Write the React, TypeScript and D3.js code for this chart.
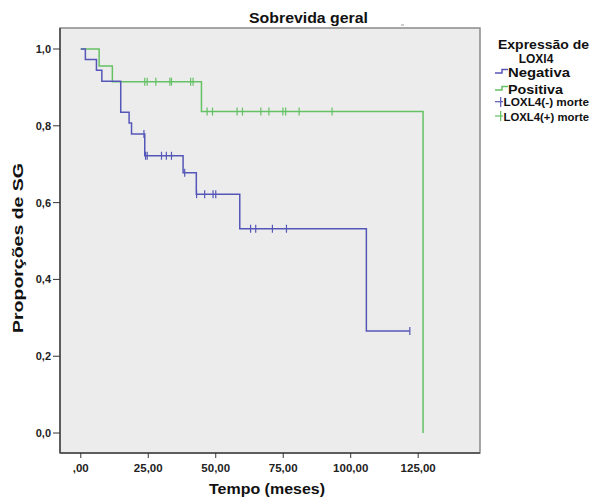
import React from "react";
import * as d3 from "d3";

const negTimes = [0, 1.7, 5.8, 7.8, 14.8, 17.9, 18.8, 23.7, 37.9, 42.8, 58.9, 105.8];
const negSurv = [1, 0.973, 0.945, 0.916, 0.835, 0.807, 0.779, 0.722, 0.678, 0.622, 0.532, 0.266];
const negEnd = 121.9;
const negCensor = [23.4, 24.0, 24.6, 29.9, 31.7, 33.6, 38.5, 42.9, 45.9, 49.0, 50.0, 62.9, 64.8, 71.0, 76.2, 121.9];

const posTimes = [0, 6.8, 11.7, 44.7, 126.8];
const posSurv = [1, 0.956, 0.915, 0.837, 0];
const posCensor = [23.7, 24.6, 27.8, 33.0, 33.6, 40.7, 41.6, 46.8, 48.8, 57.9, 59.9, 66.7, 69.7, 74.9, 75.9, 80.9, 93.1];

const xTicks = [0, 25, 50, 75, 100, 125];
const xTickLabels = [",00", "25,00", "50,00", "75,00", "100,00", "125,00"];
const yTicks = [0, 0.2, 0.4, 0.6, 0.8, 1.0];
const yTickLabels = ["0,0", "0,2", "0,4", "0,6", "0,8", "1,0"];

const legendTitle = ["Expressão de", "LOXl4"];
const legendItems = ["Negativa", "Positiva", "LOXL4(-) morte", "LOXL4(+) morte"];

const BLUE = "#5557b8";
const GREEN = "#64c164";
const FONT = "'Liberation Sans', Arial, sans-serif";

export default function App() {
  const W = 592, H = 499;
  const L = 60, R = 480, T = 28, B = 453;
  const x = d3.scaleLinear().domain([-7.7, 147.9]).range([L, R]);
  const y = d3.scaleLinear().domain([-0.052, 1.0547]).range([B, T]);

  const line = d3.line<[number, number]>()
    .x(d => x(d[0]))
    .y(d => y(d[1]))
    .curve(d3.curveStepAfter);

  const negPts: [number, number][] = negTimes.map((t, i) => [t, negSurv[i]]);
  negPts.push([negEnd, negSurv[negSurv.length - 1]]);
  const posPts: [number, number][] = posTimes.map((t, i) => [t, posSurv[i]]);

  const survAt = (times: number[], surv: number[], t: number) => {
    let v = surv[0];
    for (let i = 0; i < times.length; i++) if (times[i] <= t) v = surv[i];
    return v;
  };

  const tick = 4;

  return (
    <svg width={W} height={H} style={{ position: "absolute", left: 0, top: 0, background: "#fff" }} fontFamily={FONT}>
      <rect x={0} y={0} width={W} height={H} fill="#fff" />
      <text x={308.5} y={22.5} textAnchor="middle" fontWeight="bold" fontSize={15} textLength={119} lengthAdjust="spacingAndGlyphs" fill="#111">Sobrevida geral</text>
      <line x1={401} x2={404} y1={25} y2={25} stroke="#999" strokeWidth={1} />
      <rect x={L} y={T} width={R - L} height={B - T} fill="#ececec" stroke="#8a8a8a" strokeWidth={1.5} />
      <line x1={L} x2={L} y1={T} y2={B} stroke="#444" strokeWidth={1.5} />
      <line x1={L} x2={R} y1={B} y2={B} stroke="#444" strokeWidth={1.5} />

      {yTicks.map((v, i) => (
        <g key={"y" + i}>
          <line x1={L - 7} x2={L} y1={y(v)} y2={y(v)} stroke="#333" strokeWidth={1} />
          <text x={L - 9} y={y(v) + 4} textAnchor="end" fontWeight="bold" fontSize={11} fill="#222">{yTickLabels[i]}</text>
        </g>
      ))}
      {xTicks.map((v, i) => (
        <g key={"x" + i}>
          <line x1={x(v)} x2={x(v)} y1={B} y2={B + 5} stroke="#333" strokeWidth={1} />
          <text x={x(v)} y={471.5} textAnchor="middle" fontWeight="bold" fontSize={11.5} fill="#222">{xTickLabels[i]}</text>
        </g>
      ))}
      <text x={267} y={494} textAnchor="middle" fontWeight="bold" fontSize={15.5} textLength={116} lengthAdjust="spacingAndGlyphs" fill="#111">Tempo (meses)</text>
      <text transform={`translate(23,248) rotate(-90)`} textAnchor="middle" fontWeight="bold" fontSize={15} textLength={170} lengthAdjust="spacingAndGlyphs" fill="#111">Proporções de SG</text>

      <path d={line(posPts) || ""} fill="none" stroke={GREEN} strokeWidth={1.5} />
      <path d={line(negPts) || ""} fill="none" stroke={BLUE} strokeWidth={1.5} />
      {posCensor.map((t, i) => (
        <line key={"pc" + i} x1={x(t)} x2={x(t)} y1={y(survAt(posTimes, posSurv, t)) - tick} y2={y(survAt(posTimes, posSurv, t)) + tick} stroke={GREEN} strokeWidth={1.2} />
      ))}
      {negCensor.map((t, i) => (
        <line key={"nc" + i} x1={x(t)} x2={x(t)} y1={y(survAt(negTimes, negSurv, t)) - tick} y2={y(survAt(negTimes, negSurv, t)) + tick} stroke={BLUE} strokeWidth={1.2} />
      ))}

      <text x={543.5} y={48.5} textAnchor="middle" fontWeight="bold" fontSize={12.5} textLength={91} lengthAdjust="spacingAndGlyphs" fill="#111">{legendTitle[0]}</text>
      <text x={536} y={63} textAnchor="middle" fontWeight="bold" fontSize={12} fill="#111">{legendTitle[1]}</text>

      <path d="M495,73 H502 V69.5 H508" fill="none" stroke={BLUE} strokeWidth={1.5} />
      <text x={508} y={77} fontWeight="bold" fontSize={12.5} textLength={62} lengthAdjust="spacingAndGlyphs" fill="#111">{legendItems[0]}</text>
      <path d="M495,90 H502 V86.5 H508" fill="none" stroke={GREEN} strokeWidth={1.5} />
      <text x={508} y={93.5} fontWeight="bold" fontSize={12.5} textLength={55} lengthAdjust="spacingAndGlyphs" fill="#111">{legendItems[1]}</text>
      <line x1={495} x2={503} y1={101.7} y2={101.7} stroke={BLUE} strokeWidth={1.2} />
      <line x1={500.7} x2={500.7} y1={97} y2={107} stroke={BLUE} strokeWidth={1.2} />
      <text x={503.5} y={106} fontWeight="bold" fontSize={11} textLength={85.5} lengthAdjust="spacingAndGlyphs" fill="#111">{legendItems[2]}</text>
      <line x1={495} x2={503} y1={116} y2={116} stroke={GREEN} strokeWidth={1.2} />
      <line x1={500.7} x2={500.7} y1={111} y2={121} stroke={GREEN} strokeWidth={1.2} />
      <text x={503.5} y={120.5} fontWeight="bold" fontSize={11} textLength={85.5} lengthAdjust="spacingAndGlyphs" fill="#111">{legendItems[3]}</text>
    </svg>
  );
}
